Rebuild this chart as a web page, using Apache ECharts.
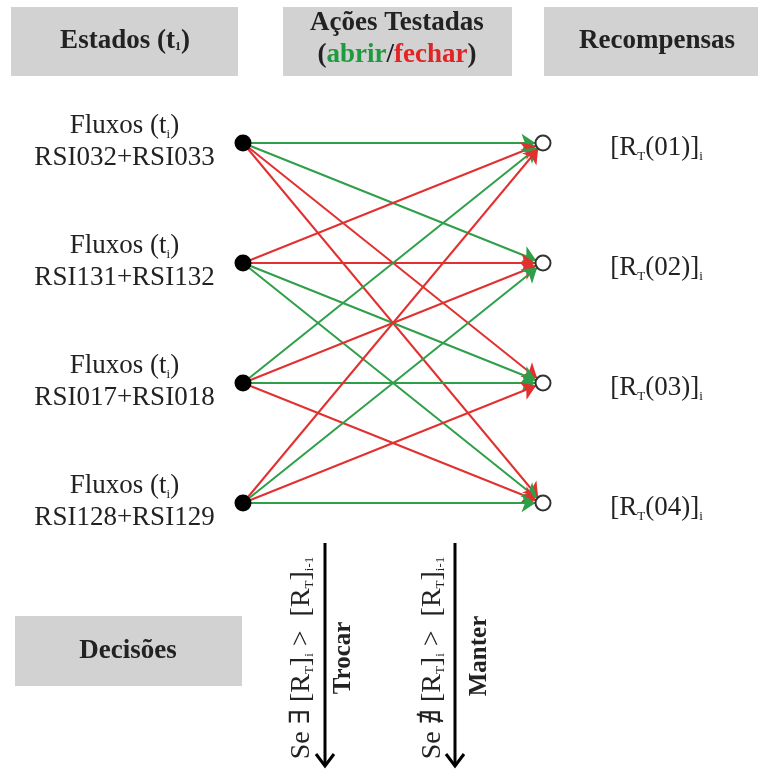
<!DOCTYPE html>
<html><head><meta charset="utf-8">
<script src="https://cdn.jsdelivr.net/npm/echarts@6/dist/echarts.min.js"></script>
<style>html,body{margin:0;padding:0;background:#fff}#c{width:758px;height:770px}</style>
</head><body><div id="c"></div>
<script>
// ---- data ----
const states = ['RSI032+RSI033', 'RSI131+RSI132', 'RSI017+RSI018', 'RSI128+RSI129'];
const rewards = ['01', '02', '03', '04'];
const rows = [1, 2, 3, 4];
// actions[state][reward]
const actions = [
  ['abrir', 'abrir', 'fechar', 'fechar'],
  ['fechar', 'fechar', 'abrir', 'abrir'],
  ['abrir', 'fechar', 'abrir', 'fechar'],
  ['fechar', 'abrir', 'fechar', 'abrir']
];
const headers = ['Estados', 'Ações Testadas', 'Recompensas', 'Decisões'];
const decisions = ['Trocar', 'Manter'];

// ---- styles ----
const SERIF = '"Liberation Serif", "DejaVu Serif", serif';
const TXT = '#222';
const GREEN = '#2e9f49';
const RED = '#e2302f';
const actionColor = { abrir: GREEN, fechar: RED };
const BOX = '#d2d2d2';

const richBase = {
  a: { fontFamily: SERIF, fontSize: 27, color: TXT, lineHeight: 32 },
  s: { fontFamily: SERIF, fontSize: 13, color: TXT, lineHeight: 13, verticalAlign: 'bottom', padding: [0, 0, 1, 0] }
};

const nodes = [];
states.forEach((s, i) => {
  nodes.push({
    name: 'S' + i, value: [0, rows[i]],
    symbol: 'circle', symbolSize: 17,
    itemStyle: { color: '#000' },
    label: {
      show: true, position: 'left', distance: 110, align: 'center', verticalAlign: 'middle',
      offset: [0, -1],
      formatter: '{a|Fluxos (t}{s|i}{a|)}\n{a|' + s + '}',
      rich: richBase
    }
  });
});
rewards.forEach((r, j) => {
  nodes.push({
    name: 'R' + j, value: [1, rows[j]],
    symbol: 'circle', symbolSize: 15,
    itemStyle: { color: '#fff', borderColor: '#333', borderWidth: 2 },
    label: {
      show: true, position: 'right', distance: 105, align: 'center', verticalAlign: 'middle',
      offset: [0, 5],
      formatter: '{a|[R}{s|T}{a|(' + r + ')]}{s|i}',
      rich: richBase
    }
  });
});
const links = [];
actions.forEach((row, i) => {
  row.forEach((act, j) => {
    links.push({ source: 'S' + i, target: 'R' + j, lineStyle: { color: actionColor[act] } });
  });
});

const chart = echarts.init(document.getElementById('c'), null, { renderer: 'canvas' });

function hdrText(x, y, rich, text) {
  return { type: 'text', x: x, y: y, silent: true,
    style: { text: text, align: 'center', verticalAlign: 'middle', rich: rich } };
}
const hRich = {
  b: { fontFamily: SERIF, fontSize: 27, fontWeight: 'bold', fill: TXT, lineHeight: 32 },
  bs: { fontFamily: SERIF, fontSize: 12, fontWeight: 'bold', fill: TXT, lineHeight: 12, verticalAlign: 'bottom', padding: [0, 0, 4, 0] },
  g: { fontFamily: SERIF, fontSize: 27, fontWeight: 'bold', fill: '#1f9a3e', lineHeight: 32 },
  r: { fontFamily: SERIF, fontSize: 27, fontWeight: 'bold', fill: '#e32424', lineHeight: 32 }
};
const vRich = {
  a: { fontFamily: SERIF, fontSize: 28, fill: TXT, lineHeight: 32 },
  s: { fontFamily: SERIF, fontSize: 13, fill: TXT, lineHeight: 13, verticalAlign: 'bottom', padding: [0, 0, 2, 0] }
};

function vArrow(x) {
  return [
    { type: 'line', silent: true, shape: { x1: x, y1: 543, x2: x, y2: 766 }, style: { stroke: '#000', lineWidth: 3 } },
    { type: 'polyline', silent: true, shape: { points: [[x - 9, 754], [x, 766], [x + 9, 754]] }, style: { stroke: '#000', lineWidth: 3, fill: null } }
  ];
}

chart.setOption({
  animation: false,
  grid: { left: 243, right: 215, top: 23, bottom: 147 },
  xAxis: { type: 'value', min: 0, max: 1, show: false },
  yAxis: { type: 'value', min: 0, max: 5, inverse: true, show: false },
  series: [{
    type: 'graph', coordinateSystem: 'cartesian2d', silent: true,
    data: nodes, links: links,
    edgeSymbol: ['none', 'arrow'], edgeSymbolSize: [0, 14],
    lineStyle: { width: 2, opacity: 1, curveness: 0 },
    z: 2
  }],
  graphic: [
    { type: 'rect', silent: true, shape: { x: 11, y: 7, width: 227, height: 69 }, style: { fill: BOX } },
    { type: 'rect', silent: true, shape: { x: 283, y: 7, width: 229, height: 69 }, style: { fill: BOX } },
    { type: 'rect', silent: true, shape: { x: 544, y: 7, width: 214, height: 69 }, style: { fill: BOX } },
    { type: 'rect', silent: true, shape: { x: 15, y: 616, width: 227, height: 70 }, style: { fill: BOX } },
    hdrText(125, 41, hRich, '{b|' + headers[0] + ' (t}{bs|1}{b|)}'),
    hdrText(397, 39, hRich, '{b|' + headers[1] + '}\n{b|(}{g|abrir}{b|/}{r|fechar}{b|)}'),
    hdrText(657, 41, hRich, '{b|' + headers[2] + '}'),
    hdrText(128, 651, hRich, '{b|' + headers[3] + '}'),
    ...vArrow(325),
    ...vArrow(455),
    { type: 'text', silent: true, x: 302, y: 658, rotation: Math.PI / 2,
      style: { text: '{a|Se ∃ [R}{s|T}{a|]}{s|i}{a| >  [R}{s|T}{a|]}{s|i-1}', align: 'center', verticalAlign: 'middle', rich: vRich } },
    { type: 'text', silent: true, x: 433, y: 658, rotation: Math.PI / 2,
      style: { text: '{a|Se ∄ [R}{s|T}{a|]}{s|i}{a| >  [R}{s|T}{a|]}{s|i-1}', align: 'center', verticalAlign: 'middle', rich: vRich } },
    { type: 'text', silent: true, x: 344, y: 658, rotation: Math.PI / 2,
      style: { text: decisions[0], align: 'center', verticalAlign: 'middle', fill: TXT, font: 'bold 25px ' + SERIF } },
    { type: 'text', silent: true, x: 480, y: 656, rotation: Math.PI / 2,
      style: { text: decisions[1], align: 'center', verticalAlign: 'middle', fill: TXT, font: 'bold 25px ' + SERIF } }
  ]
});
</script>
</body></html>
